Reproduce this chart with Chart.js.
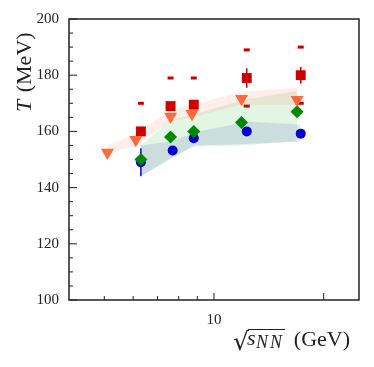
<!DOCTYPE html>
<html>
<head>
<meta charset="utf-8">
<script src="https://cdn.jsdelivr.net/npm/chart.js@4.4.0/dist/chart.umd.min.js"></script>
<style>
  html, body { margin: 0; padding: 0; background: #fff; }
</style>
</head>
<body>
<canvas id="chart" width="374" height="367"></canvas>
<script>
/* DATA */
const xTicks = [5, 6, 7, 8, 9, 10, 20];
const xLabels = [10];
const yLabels = [100, 120, 140, 160, 180, 200];

const triX = [5.1, 6.1, 7.6, 8.7, 11.9, 16.9];
const triY = [152.5, 157, 165.3, 166.3, 171.6, 171.3];

const sqX = [6.3, 7.6, 8.8, 12.3, 17.3];
const sqY = [160, 169, 169.5, 179, 180];
const sqErr = [0, 0, 0, 3.5, 3];

const diaX = [6.3, 7.6, 8.8, 11.9, 16.9];
const diaY = [150, 158, 160, 163.2, 167];

const cirX = [6.3, 7.7, 8.8, 12.3, 17.3];
const cirY = [149, 153.2, 157.6, 160, 159.2];
const cirErr = [5, 0, 0, 0, 0];

const limX = [6.3, 7.6, 8.8, 12.3, 17.3, 12.3, 17.3];
const limY = [170, 179, 179, 189, 190, 169, 170];

const orangeBandX = [5.1, 6.1, 7.6, 8.7, 11.9, 16.9];
const orangeHi = [155, 159, 167.5, 169.5, 174, 175.5];
const orangeLo = [152, 155, 163.5, 165, 169.5, 169.5];

const greenBandX = [6.3, 7.6, 8.8, 11.9, 16.9];
const greenHi = [155, 164, 166, 171, 174.5];
const greenLo = [144, 150.5, 154.5, 155, 156.5];

const blueBandX = [6.3, 7.7, 8.8, 12.3, 17.3];
const blueHi = [155, 156.5, 159.5, 163.5, 162.5];
const blueLo = [144, 150.5, 155, 155.5, 156.5];

const zip = (xs, ys) => xs.map((x, i) => ({ x: x, y: ys[i] }));

const band = (xs, hi, lo, color) => [
  {
    data: zip(xs, hi),
    fill: "+1",
    backgroundColor: color,
    borderColor: "transparent",
    borderWidth: 0,
    pointRadius: 0,
    tension: 0,
    order: 10,
  },
  {
    data: zip(xs, lo),
    fill: false,
    borderColor: "transparent",
    borderWidth: 0,
    pointRadius: 0,
    tension: 0,
    order: 10,
  },
];

const markers = (xs, ys, color, style, radius, order, extra) =>
  Object.assign(
    {
      data: zip(xs, ys),
      showLine: false,
      pointStyle: style,
      pointRadius: radius,
      pointBackgroundColor: color,
      pointBorderWidth: 0,
      order: order,
    },
    extra || {}
  );

/* PLUGINS */
const errorBars = {
  id: "errorBars",
  beforeDatasetsDraw(chart) {
    const { ctx, scales: { x, y } } = chart;
    const draw = (xs, ys, errs, color) => {
      ctx.strokeStyle = color;
      ctx.lineWidth = 1.5;
      xs.forEach((v, i) => {
        if (!errs[i]) return;
        const px = x.getPixelForValue(v);
        ctx.beginPath();
        ctx.moveTo(px, y.getPixelForValue(ys[i] - errs[i]));
        ctx.lineTo(px, y.getPixelForValue(ys[i] + errs[i]));
        ctx.stroke();
      });
    };
    ctx.save();
    draw(sqX, sqY, sqErr, "#cc0000");
    draw(cirX, cirY, cirErr, "#0000cc");
    ctx.restore();
  },
};

const frame = {
  id: "frame",
  afterDraw(chart) {
    const { ctx, chartArea: a, scales: { x, y } } = chart;
    ctx.save();
    ctx.strokeStyle = "#222";
    ctx.lineWidth = 1.5;
    ctx.strokeRect(a.left, a.top, a.right - a.left, a.bottom - a.top);
    ctx.lineWidth = 1;
    x.ticks.forEach((t) => {
      const px = x.getPixelForValue(t.value);
      const len = t.value === 10 || t.value === 20 ? 7 : 4;
      ctx.beginPath();
      ctx.moveTo(px, a.bottom);
      ctx.lineTo(px, a.bottom - len);
      ctx.stroke();
    });
    y.ticks.forEach((t) => {
      const py = y.getPixelForValue(t.value);
      const len = yLabels.includes(t.value) ? 8 : 4;
      ctx.beginPath();
      ctx.moveTo(a.left, py);
      ctx.lineTo(a.left + len, py);
      ctx.stroke();
    });

    // axis titles
    ctx.fillStyle = "#222";
    ctx.textBaseline = "alphabetic";
    ctx.textAlign = "left";

    // x title: sqrt(s_NN) (GeV)
    ctx.font = '25px "DejaVu Serif"';
    ctx.fillText("\u221A", 233, 350);
    const rm = ctx.measureText("\u221A");
    const barY = 350 - rm.actualBoundingBoxAscent + 0.5;
    const barStart = 233 + rm.actualBoundingBoxRight - 1;
    ctx.font = 'italic 22px "Liberation Serif"';
    ctx.fillText("s", 247, 345);
    ctx.font = 'italic 18px "Liberation Serif"';
    ctx.letterSpacing = "2px";
    ctx.fillText("NN", 256, 348);
    const barEnd = 256 + ctx.measureText("NN").width + 1;
    ctx.letterSpacing = "0px";
    ctx.lineWidth = 1;
    ctx.beginPath();
    ctx.moveTo(barStart, barY);
    ctx.lineTo(barEnd, barY);
    ctx.stroke();
    ctx.font = '22px "Liberation Serif"';
    ctx.textAlign = "right";
    ctx.fillText("(GeV)", 350, 346);
    ctx.textAlign = "left";

    // y title: T (MeV)
    ctx.translate(31, 112);
    ctx.rotate(-Math.PI / 2);
    ctx.font = 'italic 22px "Liberation Serif"';
    ctx.fillText("T", 0, 0);
    const tw = ctx.measureText("T").width;
    ctx.font = '22px "Liberation Serif"';
    ctx.fillText(" (MeV)", tw + 2, 0);
    ctx.restore();
  },
};

/* CHART */
new Chart(document.getElementById("chart"), {
  type: "line",
  data: {
    datasets: [
      ...band(orangeBandX, orangeHi, orangeLo, "rgba(255,110,70,0.12)"),
      ...band(greenBandX, greenHi, greenLo, "rgba(0,160,0,0.11)"),
      ...band(blueBandX, blueHi, blueLo, "rgba(30,40,200,0.12)"),
      markers(limX, limY, "#cc0000", "line", 3, 6, {
        pointBorderColor: "#cc0000",
        pointBorderWidth: 3,
      }),
      markers(sqX, sqY, "#cc0000", "rect", 7, 5),
      markers(cirX, cirY, "#0000cc", "circle", 5, 4),
      markers(diaX, diaY, "#008800", "rectRot", 6.5, 3),
      markers(triX, triY, "#ff6a3d", "triangle", 7.5, 2, { pointRotation: 180 }),
    ],
  },
  options: {
    responsive: false,
    animation: false,
    events: [],
    layout: { padding: { top: 19, right: 15, left: 0, bottom: 0 } },
    plugins: { legend: { display: false }, tooltip: { enabled: false } },
    scales: {
      x: {
        type: "logarithmic",
        min: 4,
        max: 25,
        afterBuildTicks: (s) => {
          s.ticks = xTicks.map((v) => ({ value: v }));
        },
        afterFit: (s) => {
          s.height = 67;
        },
        grid: { display: false, drawTicks: false },
        border: { display: false },
        ticks: {
          autoSkip: false,
          maxRotation: 0,
          padding: 11,
          color: "#222",
          font: { family: "Liberation Serif", size: 15 },
          callback: (v) => (xLabels.includes(v) ? String(v) : ""),
        },
      },
      y: {
        min: 100,
        max: 200,
        afterFit: (s) => {
          s.width = 69;
        },
        grid: { display: false, drawTicks: false },
        border: { display: false },
        ticks: {
          stepSize: 5,
          autoSkip: false,
          padding: 10,
          color: "#222",
          font: { family: "Liberation Serif", size: 15 },
          callback: (v) => (yLabels.includes(v) ? String(v) : ""),
        },
      },
    },
  },
  plugins: [errorBars, frame],
});
</script>
</body>
</html>
